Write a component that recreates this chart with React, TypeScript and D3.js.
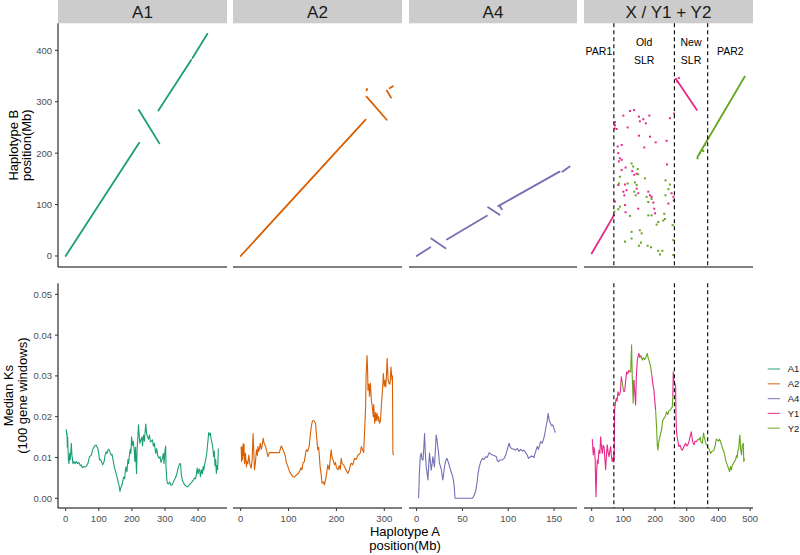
import React from "react";
import * as d3 from "d3";

const FONT = '"Liberation Sans", Arial, Helvetica, sans-serif';

// ---------- categories / labels ----------
const facetLabels = ["A1", "A2", "A4", "X / Y1 + Y2"];
const seriesNames = ["A1", "A2", "A4", "Y1", "Y2"];
const seriesColors = ["#1B9E77", "#D95F02", "#7570B3", "#E7298A", "#66A61E"];

const xDomains: [number, number][] = [[-23.2, 487.2], [-16, 337], [-8.3, 175], [-24.2, 509]];
const xTicks = [[0, 100, 200, 300, 400], [0, 100, 200, 300], [0, 50, 100, 150], [0, 100, 200, 300, 400, 500]];
const topYTicks = [0, 100, 200, 300, 400];
const bottomYTicks = [0, 0.01, 0.02, 0.03, 0.04, 0.05];

const regionBreaks = [70, 261, 366];
const regionLabels = [["PAR1"], ["Old", "SLR"], ["New", "SLR"], ["PAR2"]];

// ---------- synteny segments (Haplotype A Mb, Haplotype B Mb) ----------
const syntenyA1 = [
  [0, 0, 222, 220], [221, 284, 283, 219], [280, 283, 379, 381], [383, 385, 428, 432],
];
const syntenyA2 = [
  [0, 0, 261, 265], [263, 310, 305, 265], [263, 322, 264, 325], [305, 322, 314, 308], [311, 326, 318, 330],
];
const syntenyA4 = [
  [0, 0, 15, 17], [16, 34, 31.5, 15], [33, 32, 76.7, 78.4], [78, 95, 90.5, 80], [89, 97, 156, 164], [91, 96, 93, 91], [159, 164, 167, 174],
];
const syntenyY1 = [[0, 5, 71, 80], [266, 344, 332, 284]];
const syntenyY2 = [[334, 193, 483, 349]];

// scattered Y1 / Y2 hits in the old SLR
const scatterY1 = [
  [121, 282], [133.5, 284], [100, 273], [149, 271], [152, 262], [163, 266], [171, 258], [182, 273], [247, 268], [260, 277],
  [113.5, 250], [73.5, 254], [72.5, 248], [74, 260], [79, 247], [149, 234], [184, 232], [202, 221], [236.5, 224], [166, 211],
  [94.6, 216], [82, 213], [84, 200], [89, 190], [94.6, 187], [86, 184], [237.6, 178], [107, 172], [94.6, 167], [128, 165],
  [134.5, 158], [142, 160], [84, 138], [105, 139], [100, 125], [110, 128], [142, 131], [147, 122], [178.7, 125], [189, 115],
  [194.5, 104], [184, 118], [252, 122], [257.6, 115], [242, 102], [147, 92], [105, 99], [107, 85], [200, 83], [197.6, 92],
  [73.5, 106], [103, 118], [266, 344], [270, 339], [275, 346], [259, 108],
];
const scatterY2 = [
  [126, 180], [131, 174], [145, 169], [147, 159], [136.6, 143], [142, 138], [168, 151], [89, 154], [86, 141], [113.5, 141],
  [134.5, 125], [139, 118], [178.7, 105], [173.4, 115], [189, 111], [233, 118], [242, 130], [247, 139], [233, 147], [89, 96],
  [71.5, 86], [84, 91], [121, 78], [178.7, 79], [189, 79], [229, 82], [210, 66], [205, 61], [226, 69], [231, 72],
  [255.5, 60], [126, 47], [152, 50], [157.7, 44], [126, 34], [105, 28], [155.6, 26], [149, 20], [176.6, 20], [187, 17],
  [210, 10], [215.5, 3], [223, 10], [257.6, 31], [257.6, 2], [334, 190], [341.7, 200], [349, 206], [357.5, 216], [352, 204],
];

// ---------- median Ks (Haplotype A Mb, Ks) ----------
const ksA1 = [
  [2, .0169], [3, .0155], [4, .016], [5, .0125], [6, .015], [8, .0095], [10, .0085], [12, .011], [14, .0095], [17, .0135], [19, .0105],
  [22, .0085], [25, .009], [28, .0085], [32, .009], [36, .0085], [40, .0088], [44, .008], [47, .0082], [50, .0075], [54, .0078],
  [57, .0077], [62, .0078], [67, .0085], [72, .0102], [77, .0105], [82, .012], [87, .0128], [92, .013], [97, .0122], [100, .011],
  [102, .0094], [106, .0095], [109, .0088], [112, .0082], [116, .009], [119, .0105], [122, .0114], [125, .011], [128, .012],
  [132, .0118], [135, .011], [137, .0106], [140, .0108], [144, .009], [147, .0077], [150, .0068], [154, .0055], [157, .0045],
  [160, .0035], [162, .0028], [164, .0017], [166, .0025], [169, .003], [172, .0041], [175, .0052], [178, .0048], [180, .0065],
  [182, .0077], [185, .0065], [188, .0095], [190, .0085], [192, .0102], [195, .012], [197, .011], [199, .0151], [201, .013],
  [204, .014], [207, .0118], [209, .009], [211, .0125], [214, .0061], [216, .0125], [218, .015], [220, .018], [222, .0155],
  [224, .0135], [227, .0143], [230, .015], [232, .0128], [235, .0155], [238, .014], [240, .0165], [242, .0182], [244, .016],
  [247, .0151], [250, .0145], [253, .0155], [256, .0138], [259, .014], [262, .0143], [265, .0128], [268, .0135], [270, .012],
  [272, .011], [275, .0122], [278, .0105], [282, .0098], [285, .0102], [288, .0088], [291, .0095], [295, .011], [297, .0085],
  [300, .0118], [302, .0128], [303, .0077], [305, .005], [307, .0037], [310, .0035], [314, .004], [318, .0032], [322, .0033],
  [326, .0042], [330, .0048], [334, .0055], [337, .0065], [340, .0075], [344, .0085], [347, .0084], [349, .006], [352, .0045],
  [356, .0038], [360, .0032], [364, .003], [367, .0028], [371, .003], [375, .0035], [379, .0038], [382, .0041], [386, .0045],
  [389, .005], [392, .0048], [395, .006], [397, .0074], [400, .006], [403, .0072], [405, .0068], [407, .0053], [410, .007],
  [413, .006], [415, .0078], [417, .0069], [420, .0085], [423, .0095], [426, .011], [429, .0135], [432, .0161], [435, .0155],
  [437, .016], [439, .0147], [442, .0135], [445, .012], [447, .0102], [449, .0115], [451, .008], [453, .0095], [455, .0061],
  [457, .008], [459, .007], [461, .0122],
];
const ksA2 = [
  [1, .0127], [2, .009], [3, .0125], [4, .0095], [5, .0133], [6, .0105], [7, .0133], [8, .0085], [10, .011], [12, .0077], [13, .009],
  [15, .0085], [17, .0106], [19, .0085], [22, .0074], [24, .0095], [26, .0159], [28, .0095], [29, .007], [31, .009], [33, .0119],
  [35, .0105], [36, .0127], [38, .0115], [41, .0135], [43, .012], [45, .013], [47, .0147], [49, .0135], [52, .0127], [54, .0118],
  [57, .0102], [60, .0112], [67, .0112], [74, .0112], [81, .0112], [83, .0122], [85, .0128], [88, .012], [90, .0114], [93, .0105],
  [95, .009], [98, .008], [102, .0066], [106, .0058], [109, .0053], [112, .0052], [116, .0057], [120, .006], [123, .0066],
  [126, .0075], [128, .007], [130, .0086], [133, .009], [135, .0105], [137, .0119], [140, .0115], [143, .0127], [145, .015],
  [147.5, .0176], [150, .019], [153, .019], [156.5, .0184], [158, .016], [161, .0119], [163, .0125], [166, .0077], [168, .006],
  [170, .0037], [173, .004], [175, .0033], [178, .005], [180, .0065], [182, .0082], [185, .007], [187, .0095], [189, .0119],
  [191, .01], [194, .009], [196, .0082], [198, .0088], [200, .0075], [203, .007], [206, .008], [208, .007], [210, .0098],
  [212, .0085], [215, .0082], [217, .0077], [220, .007], [222, .0065], [224, .0061], [227, .007], [229, .008], [231, .0086],
  [234, .0082], [236, .009], [238, .0098], [241, .0095], [243, .01], [245, .0106], [248, .0108], [250, .0112], [252, .0127],
  [254, .012], [257, .0112], [259, .017], [261, .0224], [262, .03], [264, .035], [265, .032], [266, .0265], [268, .028],
  [269, .025], [271, .0282], [273, .024], [275, .0224], [277, .02], [278, .023], [280, .0184], [282, .021], [283, .019],
  [285, .0208], [287, .019], [288, .02], [290, .0184], [292, .019], [294, .023], [295, .0245], [297, .028], [298, .0306],
  [300, .0275], [302, .029], [303, .0273], [305, .031], [306, .0343], [308, .029], [310, .0282], [312, .028], [314, .0322],
  [316, .029], [317, .03], [318, .0112], [319.4, .0106],
];
const ksA4 = [
  [2.2, 0], [3, .006], [4, .0102], [5, .0111], [6, .0095], [7, .0094], [8, .013], [8.7, .0159], [9.5, .011], [10.5, .0077],
  [11.5, .006], [12.3, .0045], [13.2, .008], [14.1, .0111], [15, .009], [15.9, .0069], [17, .0085], [17.7, .0102], [18.6, .009],
  [19.5, .0077], [20.5, .012], [21.3, .0155], [22.2, .0145], [23.1, .0127], [24, .011], [24.9, .0086], [25.8, .008], [26.7, .0073],
  [27.6, .006], [28.6, .0045], [29.5, .006], [30.4, .0077], [31.6, .009], [32.9, .0098], [34, .0092], [35, .0086], [36.3, .0075],
  [37.6, .0065], [38.8, .0058], [40.1, .0045], [41, .003], [41.9, 0], [61, 0], [63, .0008], [64.7, .002], [66, .004], [67, .006],
  [68.3, .0077], [70, .009], [71.9, .0098], [73.5, .0095], [75.5, .0102], [77, .01], [79.2, .0112], [81, .0108], [82.8, .0106],
  [85, .0104], [87.1, .0102], [88, .0092], [89.3, .009], [91, .0094], [93.6, .0094], [95.5, .0098], [97.2, .0106], [99, .012],
  [100.9, .0135], [102.3, .0125], [103.7, .0122], [106, .012], [108, .0118], [110, .0122], [111.8, .0115], [113.5, .012],
  [115.5, .0116], [117.1, .0118], [119, .0112], [120.7, .0106], [122, .0098], [123.3, .01], [125.5, .0104], [128, .01],
  [129.5, .0112], [131.6, .0127], [133, .012], [135.2, .0139], [137, .0135], [138.8, .0147], [140, .016], [141.3, .0176],
  [142.5, .019], [143.5, .0208], [144.8, .019], [146, .0184], [147.3, .0178], [148.6, .018], [150, .017], [151.5, .0161],
];
// X chromosome: third value = which Y haplotype the window belongs to (3 = Y1, 4 = Y2)
const ksXY = [
  [2, .0145, 3], [5, .0106, 3], [7, .0125, 3], [9, .0118, 3], [11, .0095, 3], [13.6, .0004, 3], [16, .007, 3], [17.8, .0094, 3],
  [20, .0085, 3], [23, .0118, 3], [26, .011, 3], [28.3, .0151, 3], [31, .0125, 3], [33.5, .011, 3], [36, .013, 3], [38.8, .0127, 3],
  [41, .0105, 3], [44, .007, 3], [47, .011, 3], [49.3, .0131, 3], [52, .0112, 3], [54.6, .0102, 3], [57, .0115, 3], [59.8, .0127, 3],
  [62, .0105, 3], [65, .009, 3], [67, .0098, 3], [70.3, .0106, 3], [71, .0095, 3], [72.4, .0216, 3], [75, .0235, 3], [77.7, .0245, 3],
  [80, .0238, 3], [83, .0261, 3], [86, .0252, 3], [89.3, .0257, 3], [91, .0265, 3], [93.5, .0298, 3], [96, .0285, 4], [98.7, .0273, 4],
  [101, .0262, 4], [104, .0261, 3], [107, .0285, 3], [110.3, .031, 3], [114, .0305, 3], [117.7, .0314, 3], [120, .031, 4],
  [123, .031, 4], [126, .0376, 4], [128, .030, 4], [131, .0233, 4], [133, .029, 3], [135, .027, 3], [138.7, .0229, 3], [141, .030, 3],
  [144, .0339, 3], [147, .035, 3], [149, .0355, 3], [152, .0345, 3], [155, .035, 4], [159.7, .0339, 4], [163, .0345, 4],
  [167, .034, 4], [170, .0343, 4], [173, .035, 4], [175.5, .0355, 4], [178, .0345, 4], [182, .0335, 4], [186, .0322, 4],
  [190, .030, 3], [193, .028, 3], [196.5, .0265, 3], [199, .024, 3], [201.8, .0216, 4], [205, .017, 4], [207, .013, 4],
  [209, .0118, 4], [212, .014, 4], [215, .015, 4], [217.6, .0159, 4], [221, .017, 4], [224, .019, 4], [228, .0196, 4],
  [232, .020, 4], [236.5, .0212, 4], [240, .0205, 4], [244, .0215, 4], [247, .0216, 4], [251, .022, 4], [254.4, .0224, 4],
  [256, .025, 3], [257.5, .031, 3], [259, .029, 3], [261.7, .0285, 3], [264.9, .0273, 3], [266, .020, 3], [268, .0159, 3],
  [271, .0145, 3], [275, .0127, 3], [279, .013, 3], [283, .012, 3], [286, .0118, 3], [290, .0125, 3], [293, .013, 3],
  [296.4, .0135, 3], [300, .0128, 3], [304, .0132, 3], [307, .0139, 3], [310, .015, 3], [314.3, .0163, 3], [318, .014, 3],
  [322.7, .0131, 3], [326, .014, 3], [331, .0139, 3], [335, .0145, 4], [338.5, .0143, 4], [342, .015, 4], [345, .0138, 4],
  [349, .0135, 4], [353, .016, 4], [356.3, .0147, 4], [360, .0135, 4], [364, .013, 4], [366.9, .0123, 4], [371, .012, 4],
  [375.3, .011, 4], [380, .0115, 4], [385.8, .0118, 4], [390, .013, 4], [393, .0145, 4], [396.3, .0143, 4], [400, .014, 4],
  [403, .0145, 4], [406.8, .0139, 4], [410, .013, 4], [414, .012, 4], [417.3, .0114, 4], [421, .010, 4], [424, .009, 4],
  [427.8, .0082, 4], [431, .0075, 4], [435.2, .0065, 4], [438, .0078, 4], [441, .007, 4], [443.6, .0082, 4], [447, .0085, 4],
  [450, .009, 4], [454, .0094, 4], [457, .0105, 4], [459, .010, 4], [461.5, .0118, 4], [464, .012, 4], [466, .0145, 4],
  [467.8, .0155, 4], [470, .012, 4], [473, .0106, 4], [475, .013, 4], [478.3, .0135, 4], [480, .009, 4], [482.5, .0098, 4],
];

// ---------- layout ----------
const W = 800, H = 555;
const panelX: [number, number][] = [[58, 227], [233, 402], [409, 577], [584, 753]];
const stripBottom = 23.3;
const topArea: [number, number] = [stripBottom, 267];
const botArea: [number, number] = [283.3, 508];

const yTop = d3.scaleLinear().domain([-21.4, 452.5]).range([topArea[1], topArea[0]]);
const yBot = d3.scaleLinear().domain([-0.00238, 0.0527]).range([botArea[1], botArea[0]]);
const xScales = panelX.map((r, i) => d3.scaleLinear().domain(xDomains[i]).range(r));

const tickColor = "#4D4D4D";

function splitRuns(pts: number[][]) {
  const out: number[][][] = [];
  let cur: number[][] = [pts[0]];
  for (let i = 1; i < pts.length; i++) {
    const p = pts[i];
    if (p[2] !== cur[0][2]) {
      cur.push([p[0], p[1], cur[0][2]]);
      out.push(cur);
      cur = [p];
    } else cur.push(p);
  }
  out.push(cur);
  return out;
}

export default function App() {
  const synteny = [
    [{ segs: syntenyA1, c: 0 }],
    [{ segs: syntenyA2, c: 1 }],
    [{ segs: syntenyA4, c: 2 }],
    [{ segs: syntenyY1, c: 3 }, { segs: syntenyY2, c: 4 }],
  ];
  const ksSingle = [ksA1, ksA2, ksA4];

  return (
    <svg width={W} height={H} style={{ position: "absolute", left: 0, top: 0, background: "#fff" }} fontFamily={FONT}>
      <rect x={0} y={0} width={W} height={H} fill="#fff" />
      {panelX.map((r, i) => {
        const xs = xScales[i];
        const line = d3.line<number[]>().x((d) => xs(d[0])).y((d) => yBot(d[1]));
        return (
          <g key={i}>
            {/* strip */}
            <rect x={r[0]} y={0} width={r[1] - r[0]} height={stripBottom} fill="#CCCCCC" />
            <text x={(r[0] + r[1]) / 2} y={18.3} textAnchor="middle" fontSize={17} fill="#1a1a1a">{facetLabels[i]}</text>

            {/* top panel synteny */}
            {synteny[i].map((s, j) => (
              <g key={j}>
                {s.segs.map((g, k) => (
                  <line key={k} x1={xs(g[0])} y1={yTop(g[1])} x2={xs(g[2])} y2={yTop(g[3])}
                    stroke={seriesColors[s.c]} strokeWidth={1.8} strokeLinecap="round" />
                ))}
              </g>
            ))}
            {i === 3 && (
              <g>
                {scatterY1.map((p, k) => (
                  <rect key={"a" + k} x={xs(p[0]) - 1} y={yTop(p[1]) - 1} width={2} height={2} fill={seriesColors[3]} />
                ))}
                {scatterY2.map((p, k) => (
                  <rect key={"b" + k} x={xs(p[0]) - 1} y={yTop(p[1]) - 1} width={2} height={2} fill={seriesColors[4]} />
                ))}
              </g>
            )}

            {/* bottom panel Ks */}
            {i < 3 && (
              <path d={line(ksSingle[i]) || ""} fill="none" stroke={seriesColors[i]} strokeWidth={1.1} strokeLinejoin="round" />
            )}
            {i === 3 && splitRuns(ksXY).map((run, k) => (
              <path key={k} d={line(run) || ""} fill="none" stroke={seriesColors[run[0][2]]} strokeWidth={1.1} strokeLinejoin="round" />
            ))}

            {/* region dashed lines and labels */}
            {i === 3 && (
              <g>
                {regionBreaks.map((b, k) => (
                  <g key={k}>
                    <line x1={xs(b)} x2={xs(b)} y1={topArea[0]} y2={topArea[1]} stroke="#000" strokeWidth={1.1} strokeDasharray="4,3" />
                    <line x1={xs(b)} x2={xs(b)} y1={botArea[0]} y2={botArea[1]} stroke="#000" strokeWidth={1.1} strokeDasharray="4,3" />
                  </g>
                ))}
                {regionLabels.map((lab, k) => {
                  const edges = [xDomains[3][0], ...regionBreaks, xDomains[3][1]];
                  const cx = xs((edges[k] + edges[k + 1]) / 2);
                  return lab.length === 1 ? (
                    <text key={k} x={cx} y={54.5} textAnchor="middle" fontSize={10.5} fill="#000">{lab[0]}</text>
                  ) : (
                    <g key={k}>
                      <text x={cx} y={45.7} textAnchor="middle" fontSize={10.5} fill="#000">{lab[0]}</text>
                      <text x={cx} y={64} textAnchor="middle" fontSize={10.5} fill="#000">{lab[1]}</text>
                    </g>
                  );
                })}
              </g>
            )}

            {/* x axes */}
            <line x1={r[0]} x2={r[1]} y1={topArea[1]} y2={topArea[1]} stroke="#000" strokeWidth={1} />
            <line x1={r[0]} x2={r[1]} y1={botArea[1]} y2={botArea[1]} stroke="#000" strokeWidth={1} />
            {xTicks[i].map((t) => (
              <g key={t}>
                <line x1={xs(t)} x2={xs(t)} y1={botArea[1]} y2={botArea[1] + 3} stroke="#333" strokeWidth={1} />
                <text x={xs(t)} y={522} textAnchor="middle" fontSize={9.5} fill={tickColor}>{t}</text>
              </g>
            ))}
          </g>
        );
      })}

      {/* y axes (first column) */}
      <line x1={58} x2={58} y1={topArea[0]} y2={topArea[1]} stroke="#000" strokeWidth={1} />
      <line x1={58} x2={58} y1={botArea[0]} y2={botArea[1]} stroke="#000" strokeWidth={1} />
      {topYTicks.map((t) => (
        <g key={t}>
          <line x1={55} x2={58} y1={yTop(t)} y2={yTop(t)} stroke="#333" strokeWidth={1} />
          <text x={52} y={yTop(t) + 3.4} textAnchor="end" fontSize={9.5} fill={tickColor}>{t}</text>
        </g>
      ))}
      {bottomYTicks.map((t) => (
        <g key={t}>
          <line x1={55} x2={58} y1={yBot(t)} y2={yBot(t)} stroke="#333" strokeWidth={1} />
          <text x={52} y={yBot(t) + 3.4} textAnchor="end" fontSize={9.5} fill={tickColor}>{t.toFixed(2)}</text>
        </g>
      ))}

      {/* axis titles */}
      <g transform={`translate(17.5, ${(topArea[0] + topArea[1]) / 2}) rotate(-90)`}>
        <text x={0} y={0} textAnchor="middle" fontSize={13} fill="#000">Haplotype B</text>
      </g>
      <g transform={`translate(30.5, ${(topArea[0] + topArea[1]) / 2}) rotate(-90)`}>
        <text x={0} y={0} textAnchor="middle" fontSize={13} fill="#000">position(Mb)</text>
      </g>
      <g transform={`translate(13, ${(botArea[0] + botArea[1]) / 2}) rotate(-90)`}>
        <text x={0} y={0} textAnchor="middle" fontSize={13} fill="#000">Median Ks</text>
      </g>
      <g transform={`translate(26.5, ${(botArea[0] + botArea[1]) / 2}) rotate(-90)`}>
        <text x={0} y={0} textAnchor="middle" fontSize={13} fill="#000">(100 gene windows)</text>
      </g>
      <text x={405} y={535.5} textAnchor="middle" fontSize={13} fill="#000">Haplotype A</text>
      <text x={405} y={550} textAnchor="middle" fontSize={13} fill="#000">position(Mb)</text>

      {/* legend */}
      {seriesNames.map((n, k) => {
        const y = 369 + k * 14.8;
        return (
          <g key={n}>
            <line x1={767.7} x2={780} y1={y} y2={y} stroke={seriesColors[k]} strokeWidth={1.2} opacity={0.8} />
            <text x={787.7} y={y + 3.4} fontSize={9.5} fill="#1a1a1a">{n}</text>
          </g>
        );
      })}
    </svg>
  );
}
